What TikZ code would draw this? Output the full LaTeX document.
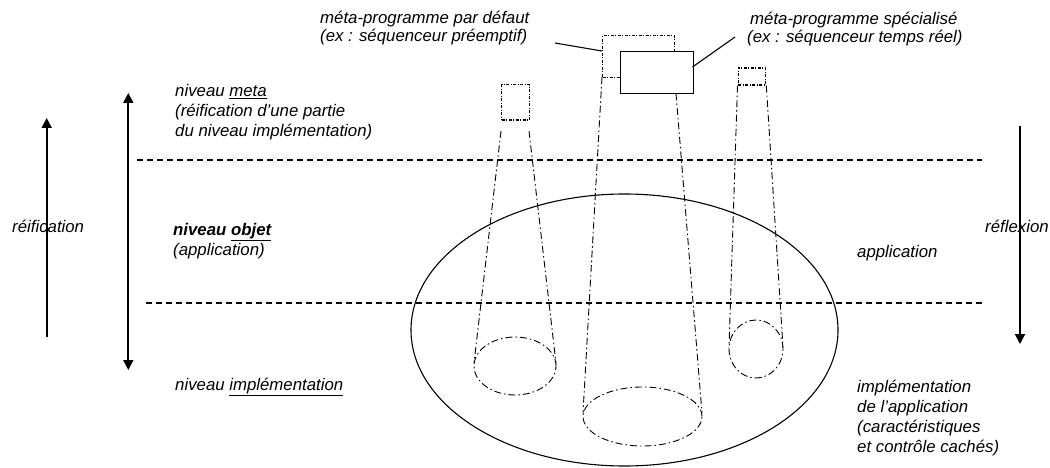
\documentclass[tikz,border=0pt]{standalone}
\usepackage{fontspec}
\setmainfont{Liberation Sans}
\usetikzlibrary{arrows.meta}
\begin{document}
\begin{tikzpicture}[x=1pt,y=-1pt,
  txt/.style={anchor=base west, inner sep=0pt, font=\fontsize{16.8}{20}\selectfont\itshape},
  level/.style={line width=1.6pt, dash pattern=on 6pt off 4pt},
  arr/.style={line width=2pt, -{Triangle[width=10pt,length=10pt]}},
  darr/.style={line width=2pt, {Triangle[width=10pt,length=10pt]}-{Triangle[width=10pt,length=10pt]}},
  cone/.style={line width=0.9pt, dash pattern=on 7pt off 3pt on 1.5pt off 3pt},
  metabox/.style={draw, line width=1.3pt, dash pattern=on 3pt off 1.5pt on 1pt off 1.5pt, inner sep=0pt, anchor=north west},
  solidbox/.style={draw, line width=1.1pt, fill=white, inner sep=0pt, anchor=north west},
  ptr/.style={line width=1.1pt}
]
\useasboundingbox (0,0) rectangle (1050,468);

% texts
\node[txt] (dft1) at (320,24) {méta-programme par défaut};
\node[txt] (dft2) at (320,42) {(ex : séquenceur préemptif)};
\node[txt] (spe1) at (750,25) {méta-programme spécialisé};
\node[txt] (spe2) at (747,43) {(ex : séquenceur temps réel)};
\node[txt] (meta1) at (175,97) {niveau \underline{meta}};
\node[txt] (meta2) at (175,117) {(réification d’une partie};
\node[txt] (meta3) at (175,137) {du niveau implémentation)};
\node[txt] (reif) at (12,233) {réification};
\node[txt] (obj1) at (173,235) {\bfseries niveau \underline{objet}};
\node[txt] (obj2) at (173,255) {(application)};
\node[txt] (impl) at (175,390) {niveau \underline{implémentation}};
\node[txt] (refl) at (985,233) {réflexion};
\node[txt] (app) at (857,257) {application};
\node[txt] (ia1) at (857,392) {implémentation};
\node[txt] (ia2) at (857,412) {de l’application};
\node[txt] (ia3) at (857,432) {(caractéristiques};
\node[txt] (ia4) at (857,452) {et contrôle cachés)};

% level lines
\coordinate (l1a) at (137,160); \coordinate (l1b) at (982,160);
\coordinate (l2a) at (146,303); \coordinate (l2b) at (982,303);
\draw[level] (l1a) -- (l1b);
\draw[level] (l2a) -- (l2b);

% big ellipse (application)
\draw[line width=1.1pt] (624.5,330) ellipse [x radius=213.5pt, y radius=136pt];

% left cone
\node[metabox, minimum width=28pt, minimum height=35.5pt] (mL) at (501,84) {};
\coordinate (cLa) at (501,131); \coordinate (cLb) at (529,131);
\coordinate (eLa) at (474,363); \coordinate (eLb) at (556,363);
\draw[cone] (cLa) -- (eLa);
\draw[cone] (cLb) -- (eLb);
\draw[cone] (515,366) ellipse [x radius=41pt, y radius=29pt];

% middle cone
\node[metabox, minimum width=72pt, minimum height=42pt] (mDef) at (602,35) {};
\node[solidbox, minimum width=73pt, minimum height=42pt] (mSpe) at (619.5,51) {};
\coordinate (cMa) at (602,77); \coordinate (cMb) at (676,93.5);
\coordinate (eMa) at (583,413); \coordinate (eMb) at (702,413);
\draw[cone] (cMa) -- (eMa);
\draw[cone] (cMb) -- (eMb);
\draw[cone] (642.5,416.5) ellipse [x radius=59.5pt, y radius=29.5pt];

% right cone
\node[metabox, minimum width=27.5pt, minimum height=16.8pt] (mR) at (737.5,67.5) {};
\coordinate (cRa) at (mR.south west); \coordinate (cRb) at (mR.south east);
\coordinate (eRa) at (729,347); \coordinate (eRb) at (783,347);
\draw[cone] (cRa) -- (eRa);
\draw[cone] (cRb) -- (eRb);
\draw[cone] (756,349) ellipse [x radius=27pt, y radius=29pt];

% pointers
\coordinate (pD) at (555,43); \coordinate (pDe) at (602,51);
\draw[ptr] (pD) -- (pDe);
\coordinate (pS) at (735,37); \coordinate (pSe) at (692.5,67);
\draw[ptr] (pS) -- (pSe);

% arrows
\coordinate (aLb) at (46.7,337); \coordinate (aLt) at (46.7,118);
\draw[arr] (aLb) -- (aLt);
\coordinate (aMt) at (128.3,93); \coordinate (aMb) at (128.3,370);
\draw[darr] (aMt) -- (aMb);
\coordinate (aRt) at (1020,126); \coordinate (aRb) at (1020,344);
\draw[arr] (aRt) -- (aRb);
\end{tikzpicture}
\end{document}
